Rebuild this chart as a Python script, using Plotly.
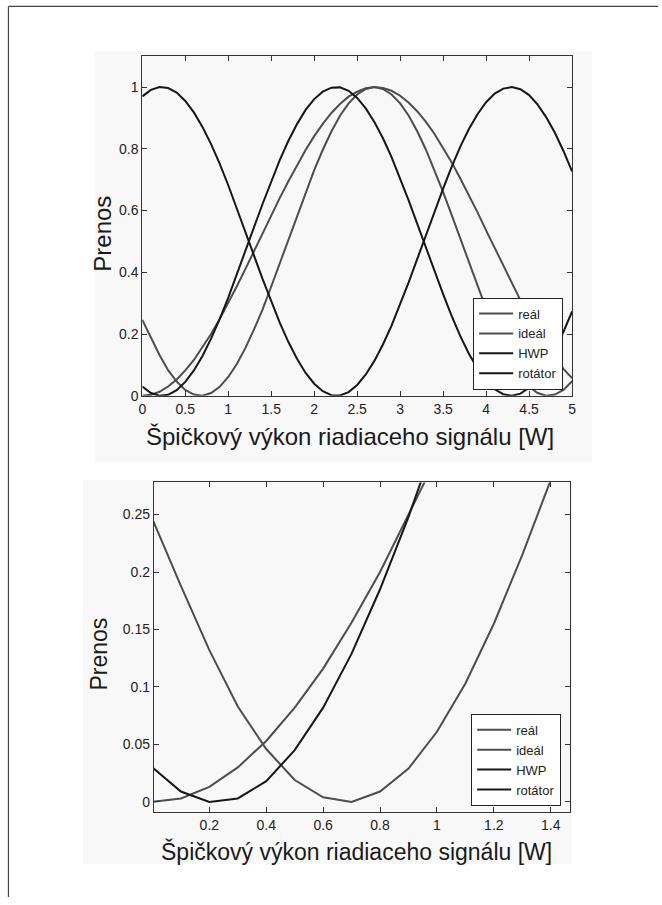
import plotly.graph_objects as go

# Peak control-signal power [W], sampled every 0.1 W
power = [0.0, 0.1, 0.2, 0.3, 0.4, 0.5, 0.6, 0.7, 0.8, 0.9,
         1.0, 1.1, 1.2, 1.3, 1.4, 1.5, 1.6, 1.7, 1.8, 1.9,
         2.0, 2.1, 2.2, 2.3, 2.4, 2.5, 2.6, 2.7, 2.8, 2.9,
         3.0, 3.1, 3.2, 3.3, 3.4, 3.5, 3.6, 3.7, 3.8, 3.9,
         4.0, 4.1, 4.2, 4.3, 4.4, 4.5, 4.6, 4.7, 4.8, 4.9, 5.0]

# Transmission curves
real = [0.246, 0.188, 0.132, 0.083, 0.046, 0.019, 0.004, 0.000, 0.009, 0.029,
        0.061, 0.103, 0.155, 0.215, 0.280, 0.354, 0.430, 0.508, 0.585, 0.660,
        0.731, 0.797, 0.856, 0.907, 0.947, 0.976, 0.994, 1.000, 0.994, 0.976,
        0.947, 0.907, 0.856, 0.797, 0.731, 0.660, 0.585, 0.508, 0.430, 0.354,
        0.282, 0.215, 0.155, 0.103, 0.061, 0.029, 0.009, 0.000, 0.004, 0.019, 0.047]
ideal = [0.000, 0.003, 0.013, 0.030, 0.053, 0.082, 0.116, 0.156, 0.200, 0.249,
         0.300, 0.355, 0.411, 0.469, 0.527, 0.584, 0.641, 0.695, 0.747, 0.796,
         0.841, 0.881, 0.916, 0.945, 0.969, 0.985, 0.996, 1.000, 0.997, 0.988,
         0.972, 0.949, 0.921, 0.887, 0.848, 0.804, 0.756, 0.704, 0.650, 0.594,
         0.536, 0.478, 0.420, 0.364, 0.309, 0.257, 0.208, 0.163, 0.123, 0.087, 0.057]
hwp = [0.030, 0.009, 0.000, 0.003, 0.018, 0.045, 0.082, 0.129, 0.185, 0.248,
       0.318, 0.392, 0.468, 0.546, 0.622, 0.695, 0.764, 0.826, 0.880, 0.926,
       0.961, 0.985, 0.998, 0.999, 0.988, 0.965, 0.931, 0.887, 0.834, 0.773,
       0.705, 0.632, 0.556, 0.479, 0.403, 0.329, 0.258, 0.193, 0.136, 0.088,
       0.049, 0.021, 0.005, 0.000, 0.007, 0.026, 0.057, 0.098, 0.148, 0.207, 0.273]
rotator = [0.970, 0.991, 1.000, 0.997, 0.982, 0.955, 0.918, 0.871, 0.815, 0.752,
           0.682, 0.608, 0.532, 0.454, 0.378, 0.305, 0.236, 0.174, 0.120, 0.074,
           0.039, 0.015, 0.002, 0.001, 0.012, 0.035, 0.069, 0.113, 0.166, 0.227,
           0.295, 0.368, 0.444, 0.521, 0.597, 0.671, 0.742, 0.807, 0.864, 0.912,
           0.951, 0.979, 0.995, 1.000, 0.993, 0.974, 0.943, 0.902, 0.852, 0.793, 0.727]

series_names = ["reál", "ideál", "HWP", "rotátor"]
series_values = [real, ideal, hwp, rotator]
series_colors = ["#4d4d4d", "#4d4d4d", "#161616", "#161616"]

x_title = "Špičkový výkon riadiaceho signálu [W]"
y_title = "Prenos"

W, H = 662, 905
FONT = "Liberation Sans, Arial, sans-serif"


def px_x(p):
    return p / W


def px_y(p):
    return (H - p) / H


fig = go.Figure()

# Full-range view (top) and zoomed view (bottom) share the same data
for name, vals, col in zip(series_names, series_values, series_colors):
    fig.add_trace(go.Scatter(x=power, y=vals, mode="lines", name=name,
                             line=dict(color=col, width=2),
                             xaxis="x", yaxis="y", legend="legend"))
for name, vals, col in zip(series_names, series_values, series_colors):
    fig.add_trace(go.Scatter(x=power, y=vals, mode="lines", name=name,
                             line=dict(color=col, width=2),
                             xaxis="x2", yaxis="y2", legend="legend2"))

axis_style = dict(showline=True, linecolor="#333", linewidth=1, mirror="ticks",
                  ticks="inside", ticklen=5, tickwidth=1, tickcolor="#333",
                  showgrid=False, zeroline=False)

legend_style = dict(bgcolor="white", bordercolor="#222", borderwidth=1,
                    font=dict(size=13, family=FONT, color="#222"),
                    tracegroupgap=0, itemwidth=34)

fig.update_layout(
    width=W, height=H,
    margin=dict(l=0, r=0, t=0, b=0),
    paper_bgcolor="white",
    plot_bgcolor="#fcfcfc",
    font=dict(family=FONT, color="#222"),
    xaxis=dict(domain=[px_x(140), px_x(575)], anchor="y", range=[0, 5],
               tick0=0, dtick=0.5, tickfont=dict(size=14), **axis_style),
    yaxis=dict(domain=[px_y(399.3), px_y(56.7)], anchor="x", range=[0, 1.1],
               tick0=0, dtick=0.2, tickfont=dict(size=14), **axis_style),
    xaxis2=dict(domain=[px_x(151.7), px_x(573.3)], anchor="y2", range=[0.005, 1.469],
                tick0=0, dtick=0.2, tickfont=dict(size=14), **axis_style),
    yaxis2=dict(domain=[px_y(819), px_y(486.7)], anchor="x2", range=[-0.0086, 0.278],
                tick0=0, dtick=0.05, tickfont=dict(size=14), **axis_style),
    legend=dict(x=px_x(566), xanchor="right", y=px_y(393), yanchor="bottom",
                **legend_style),
    legend2=dict(x=px_x(564), xanchor="right", y=px_y(813), yanchor="bottom",
                 **legend_style),
    showlegend=True,
)

# Light backdrop behind each panel and the page frame
shapes = [
    dict(type="rect", xref="paper", yref="paper", layer="below",
         x0=px_x(92), x1=px_x(595), y0=px_y(466), y1=px_y(52),
         fillcolor="#f8f8f8", line=dict(width=0)),
    dict(type="rect", xref="paper", yref="paper", layer="below",
         x0=px_x(80), x1=px_x(575), y0=px_y(872), y1=px_y(484),
         fillcolor="#f8f8f8", line=dict(width=0)),
    dict(type="line", xref="paper", yref="paper",
         x0=px_x(4.5), x1=px_x(662), y0=px_y(6.5), y1=px_y(6.5),
         line=dict(color="#444", width=1.2)),
    dict(type="line", xref="paper", yref="paper",
         x0=px_x(4.5), x1=px_x(4.5), y0=px_y(6.5), y1=px_y(905),
         line=dict(color="#444", width=1.2)),
]
fig.update_layout(shapes=shapes)

annotations = [
    dict(text=x_title, xref="paper", yref="paper", x=px_x(350), y=px_y(440),
         xanchor="center", yanchor="middle", showarrow=False,
         font=dict(size=24, family=FONT, color="#1a1a1a")),
    dict(text=y_title, xref="paper", yref="paper", x=px_x(100), y=px_y(236),
         xanchor="center", yanchor="middle", showarrow=False, textangle=-90,
         font=dict(size=24, family=FONT, color="#1a1a1a")),
    dict(text=x_title, xref="paper", yref="paper", x=px_x(357), y=px_y(859),
         xanchor="center", yanchor="middle", showarrow=False,
         font=dict(size=23, family=FONT, color="#1a1a1a")),
    dict(text=y_title, xref="paper", yref="paper", x=px_x(96.5), y=px_y(660),
         xanchor="center", yanchor="middle", showarrow=False, textangle=-90,
         font=dict(size=23, family=FONT, color="#1a1a1a")),
]
fig.update_layout(annotations=annotations)

fig.write_html("out.html")
